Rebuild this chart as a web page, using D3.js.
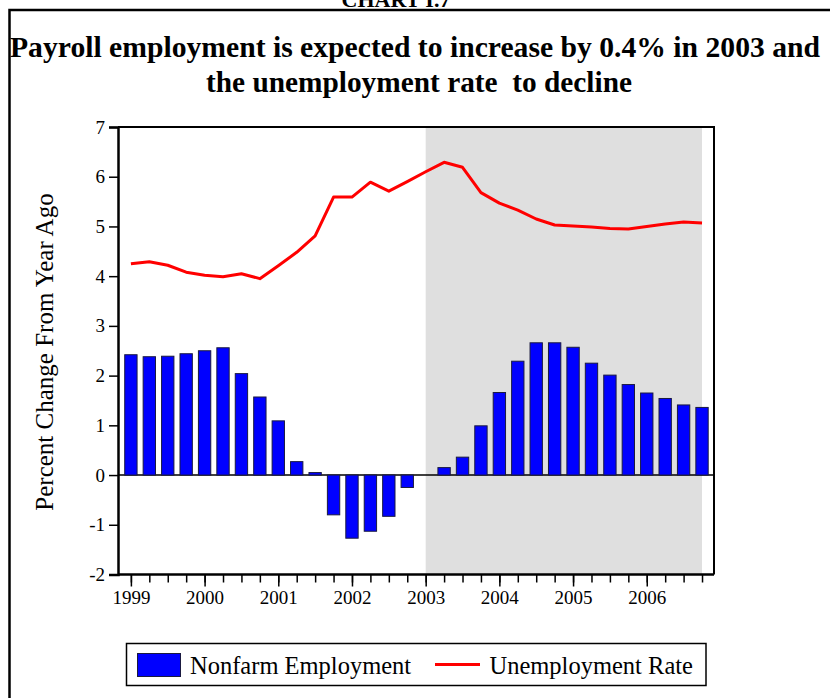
<!DOCTYPE html>
<html>
<head>
<meta charset="utf-8">
<script src="https://cdn.jsdelivr.net/npm/d3@7"></script>
<style>
  html, body { margin: 0; padding: 0; background: #ffffff; }
  svg { display: block; }
  text { font-family: "Liberation Serif", "Times New Roman", serif; fill: #000; }
</style>
</head>
<body>
<svg id="chart" width="830" height="698"></svg>
<script>
// Quarterly periods, 1999Q1 .. 2006Q4
const quarters = [
  "1999Q1","1999Q2","1999Q3","1999Q4","2000Q1","2000Q2","2000Q3","2000Q4",
  "2001Q1","2001Q2","2001Q3","2001Q4","2002Q1","2002Q2","2002Q3","2002Q4",
  "2003Q1","2003Q2","2003Q3","2003Q4","2004Q1","2004Q2","2004Q3","2004Q4",
  "2005Q1","2005Q2","2005Q3","2005Q4","2006Q1","2006Q2","2006Q3","2006Q4"
];

// Nonfarm payroll employment, percent change from year ago
const nonfarmEmployment = [
  2.42, 2.38, 2.39, 2.44, 2.50, 2.56, 2.04, 1.57,
  1.09, 0.27, 0.05, -0.80, -1.27, -1.13, -0.83, -0.25,
  0.00, 0.15, 0.36, 0.99, 1.66, 2.29, 2.66, 2.66,
  2.57, 2.25, 2.01, 1.82, 1.65, 1.54, 1.41, 1.36
];

// Civilian unemployment rate, percent
const unemploymentRate = [
  4.25, 4.29, 4.22, 4.08, 4.02, 3.99, 4.05, 3.95,
  4.21, 4.48, 4.81, 5.59, 5.59, 5.89, 5.71, 5.90,
  6.10, 6.29, 6.19, 5.68, 5.47, 5.33, 5.15, 5.03,
  5.01, 4.99, 4.96, 4.95, 5.00, 5.05, 5.09, 5.07
];

const yearLabels = ["1999","2000","2001","2002","2003","2004","2005","2006"];
const yTicks = [-2, -1, 0, 1, 2, 3, 4, 5, 6, 7];
const forecastStart = "2003Q1";
const forecastEnd = "2006Q4";

const titleLines = [
  "Payroll employment is expected to increase by 0.4% in 2003 and",
  "the unemployment rate\u00a0 to decline"
];
const yAxisTitle = "Percent Change From Year Ago";
const legendNames = ["Nonfarm Employment", "Unemployment Rate"];

const svg = d3.select("#chart");

// Outer frame and heading
svg.append("text")
  .attr("x", 396).attr("y", 7)
  .attr("text-anchor", "middle")
  .style("font-size", "22px").style("font-weight", "bold")
  .text("CHART I.7");

svg.append("path")
  .attr("d", "M9.5,705 V10 H840")
  .attr("fill", "none").attr("stroke", "#000").attr("stroke-width", 2.5);

const titleWidths = [810, 426];
svg.selectAll("text.title")
  .data(titleLines)
  .join("text")
  .attr("class", "title")
  .attr("x", (d, i) => i === 0 ? 415 : 419)
  .attr("y", (d, i) => 57 + i * 35)
  .attr("text-anchor", "middle")
  .attr("textLength", (d, i) => titleWidths[i])
  .attr("lengthAdjust", "spacingAndGlyphs")
  .style("font-size", "29.5px").style("font-weight", "bold")
  .text(d => d);

// Scales
const plot = { left: 118, right: 714, top: 127, bottom: 574.5 };
const idx = q => quarters.indexOf(q);
const x = d3.scaleLinear().domain([-0.7, 31.65]).range([plot.left, plot.right]);
const y = d3.scaleLinear().domain([-2, 7]).range([plot.bottom, plot.top]);
const step = x(1) - x(0);
const barW = step * 0.67;

const g = svg.append("g");

// Forecast shading
g.append("rect")
  .attr("x", x(idx(forecastStart)))
  .attr("y", plot.top)
  .attr("width", x(idx(forecastEnd)) - x(idx(forecastStart)))
  .attr("height", plot.bottom - plot.top)
  .attr("fill", "#dfdfdf");

// Zero line
g.append("line")
  .attr("x1", plot.left).attr("x2", plot.right)
  .attr("y1", y(0)).attr("y2", y(0))
  .attr("stroke", "#000").attr("stroke-width", 1.5);

// Bars
g.selectAll("rect.bar")
  .data(nonfarmEmployment.map((v, i) => ({ q: quarters[i], v })))
  .join("rect")
  .attr("class", "bar")
  .attr("x", d => x(idx(d.q)) - barW / 2)
  .attr("width", barW)
  .attr("y", d => y(Math.max(0, d.v)))
  .attr("height", d => Math.abs(y(d.v) - y(0)))
  .attr("fill", "#0000ff")
  .attr("stroke", "#1a1a40")
  .attr("stroke-width", 1);

// Unemployment line
const line = d3.line()
  .x((d, i) => x(i))
  .y(d => y(d));
g.append("path")
  .datum(unemploymentRate)
  .attr("d", line)
  .attr("fill", "none")
  .attr("stroke", "#ff0000")
  .attr("stroke-width", 3)
  .attr("stroke-linejoin", "round");

// Plot frame (top and right)
g.append("path")
  .attr("d", `M${plot.left},${plot.top} H${plot.right} V${plot.bottom}`)
  .attr("fill", "none").attr("stroke", "#000").attr("stroke-width", 2);

// Y axis (plain hyphen for negatives)
const yAxis = d3.axisLeft(y).tickValues(yTicks).tickSize(9).tickPadding(4).tickFormat(d => String(d));
const yG = g.append("g").attr("transform", `translate(${plot.left},0)`).call(yAxis);
yG.select(".domain").attr("stroke-width", 2.5);
yG.selectAll(".tick line").attr("stroke-width", 1.5);
yG.selectAll("text")
  .style("font-family", "'Liberation Serif', serif")
  .style("font-size", "19px")
  .attr("fill", "#000");

// X axis: quarter ticks, with longer year ticks carrying the labels
const quarterIdx = quarters.map((q, i) => i);
const xAxis = d3.axisBottom(x).tickValues(quarterIdx).tickSize(8).tickFormat("");
const xG = g.append("g").attr("transform", `translate(0,${plot.bottom})`).call(xAxis);
xG.select(".domain").attr("d", `M${plot.left},0 H${plot.right}`).attr("stroke-width", 2.5);
xG.selectAll(".tick line").attr("stroke-width", 1.5);

const yearIdx = yearLabels.map(yr => idx(yr + "Q1"));
const xYear = d3.axisBottom(x).tickValues(yearIdx).tickSize(12).tickPadding(4)
  .tickFormat(d => quarters[d].slice(0, 4));
const xYG = g.append("g").attr("transform", `translate(0,${plot.bottom})`).call(xYear);
xYG.select(".domain").remove();
xYG.selectAll(".tick line").attr("stroke-width", 1.5);
xYG.selectAll("text")
  .style("font-family", "'Liberation Serif', serif")
  .style("font-size", "19px")
  .attr("fill", "#000");

// Y axis title
svg.append("text")
  .attr("transform", "translate(53,352) rotate(-90)")
  .attr("text-anchor", "middle")
  .style("font-size", "25px")
  .text(yAxisTitle);

// Legend
const lg = svg.append("g");
lg.append("rect")
  .attr("x", 126.5).attr("y", 643.5).attr("width", 579.5).attr("height", 42)
  .attr("fill", "#fff").attr("stroke", "#000").attr("stroke-width", 1.5);
lg.append("rect")
  .attr("x", 137.5).attr("y", 653.5).attr("width", 43).attr("height", 23)
  .attr("fill", "#0000ff").attr("stroke", "#1a1a40").attr("stroke-width", 1);
lg.append("text")
  .attr("x", 190).attr("y", 673.5)
  .style("font-size", "24.5px")
  .text(legendNames[0]);
lg.append("line")
  .attr("x1", 435).attr("x2", 480).attr("y1", 664.5).attr("y2", 664.5)
  .attr("stroke", "#ff0000").attr("stroke-width", 3);
lg.append("text")
  .attr("x", 489.5).attr("y", 673.5)
  .style("font-size", "24.5px")
  .text(legendNames[1]);
</script>
</body>
</html>
